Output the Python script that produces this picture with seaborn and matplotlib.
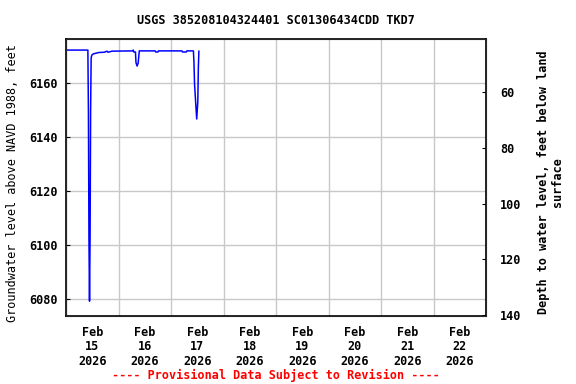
import pandas as pd
import matplotlib
matplotlib.use("Agg")
import matplotlib.pyplot as plt
import matplotlib.dates as mdates
import matplotlib.ticker as mticker
import seaborn as sns

# Data
times = [
    "2026-02-15 00:00", "2026-02-15 10:00", "2026-02-15 10:15", "2026-02-15 10:30",
    "2026-02-15 10:45", "2026-02-15 11:00", "2026-02-15 11:15", "2026-02-15 11:30",
    "2026-02-15 11:45", "2026-02-15 12:00", "2026-02-15 12:30", "2026-02-15 13:30",
    "2026-02-15 15:00", "2026-02-15 17:30", "2026-02-15 18:45", "2026-02-15 19:15",
    "2026-02-15 21:00", "2026-02-16 06:30", "2026-02-16 06:45", "2026-02-16 07:00",
    "2026-02-16 07:45", "2026-02-16 08:00", "2026-02-16 08:30", "2026-02-16 09:00",
    "2026-02-16 09:30", "2026-02-16 16:45", "2026-02-16 17:00", "2026-02-16 18:00",
    "2026-02-16 18:15", "2026-02-17 05:00", "2026-02-17 05:15", "2026-02-17 07:00",
    "2026-02-17 07:15", "2026-02-17 10:15", "2026-02-17 10:30", "2026-02-17 10:45",
    "2026-02-17 11:15", "2026-02-17 11:45", "2026-02-17 12:15", "2026-02-17 12:30",
    "2026-02-17 12:45",
]
levels = [
    6172.2, 6172.2, 6149.3, 6102.2,
    6079.3, 6102.2, 6149.5, 6169.3,
    6170.2, 6170.5, 6170.8, 6171.0,
    6171.3, 6171.4, 6171.8, 6171.4,
    6171.8, 6171.9, 6172.2, 6171.5,
    6171.5, 6167.5, 6166.3, 6167.4,
    6171.9, 6171.9, 6171.5, 6171.5,
    6171.9, 6171.9, 6171.5, 6171.5,
    6171.9, 6171.9, 6167.5, 6160.0,
    6153.1, 6146.7, 6153.0, 6165.6,
    6171.9,
]
left_ticks = [6080, 6100, 6120, 6140, 6160]
right_ticks = [60, 80, 100, 120, 140]

df = pd.DataFrame({"time": pd.to_datetime(times), "level": levels})

sns.set_style("white")
plt.rcParams['font.family'] = ['DejaVu Sans Mono']
plt.rcParams['font.weight'] = 'bold'
plt.rcParams['font.size'] = 8.5
for key in ["text.color", "axes.labelcolor", "xtick.color", "ytick.color"]:
    plt.rcParams[key] = "black"

fig = plt.figure(figsize=(5.76, 3.84), dpi=100)
ax = fig.add_axes([66 / 576, 68 / 384, 420 / 576, 277 / 384])

sns.lineplot(data=df, x="time", y="level", ax=ax, color="#0000ff",
             linewidth=1.1, estimator=None, sort=False)

ax.set_xlim(pd.Timestamp("2026-02-15"), pd.Timestamp("2026-02-23"))
ax.set_ylim(6073.8, 6176.3)
ax.set_yticks(left_ticks)

# gridlines at midnight, labels centered at noon
ax.xaxis.set_major_locator(mdates.DayLocator())
ax.xaxis.set_major_formatter(mticker.NullFormatter())
ax.xaxis.set_minor_locator(mdates.HourLocator(byhour=12))
ax.xaxis.set_minor_formatter(mdates.DateFormatter("%b\n%d\n%Y"))
ax.tick_params(axis="x", which="minor", length=0, pad=7)
ax.tick_params(axis="x", which="major", direction="in", length=3)
ax.tick_params(axis="y", direction="in", length=3, pad=6)
for lbl in ax.xaxis.get_minorticklabels():
    lbl.set_linespacing(1.15)

ax.grid(True, which="major", color="#c8c8c8", linewidth=1)
ax.set_axisbelow(True)
for s in ax.spines.values():
    s.set_color("black")
    s.set_linewidth(1.2)

ax.set_xlabel("")
ax.set_ylabel("Groundwater level above NAVD 1988, feet")
ax.yaxis.set_label_coords(-0.112, 0.48)

ax2 = ax.twinx()
ax2.set_ylim(140.4, 40.9)
ax2.set_yticks(right_ticks)
ax2.tick_params(axis="y", direction="in", length=3, pad=10)
ax2.grid(False)

fig.text(550 / 576, 1 - 182 / 384, "Depth to water level, feet below land\nsurface",
         rotation=90, ha="center", va="center", multialignment="center",
         linespacing=1.1)
fig.text(276 / 576, 1 - 20 / 384, "USGS 385208104324401 SC01306434CDD TKD7",
         ha="center", va="center")
fig.text(276 / 576, 1 - 375 / 384, "---- Provisional Data Subject to Revision ----",
         ha="center", va="center", color="red")

fig.savefig("out.png", dpi=100)
